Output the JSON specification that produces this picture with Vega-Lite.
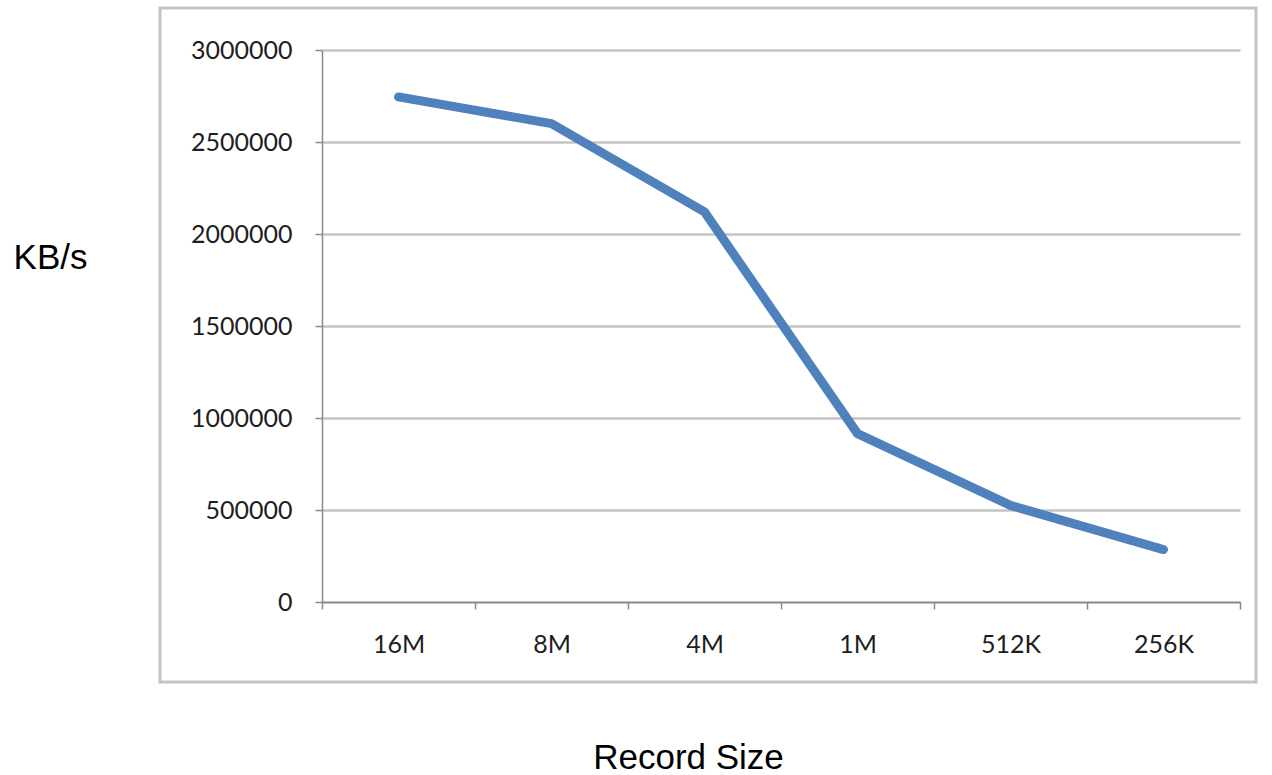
{
  "$schema": "https://vega.github.io/schema/vega-lite/v6.json",
  "autosize": "none",
  "width": 1096,
  "height": 674,
  "padding": {"left": 160, "top": 8, "right": 16, "bottom": 93},
  "background": "white",
  "config": {
    "view": {"stroke": "#c3c3c3", "strokeWidth": 3},
    "axis": {
      "labelFont": "Lato",
      "labelFontSize": 25,
      "labelColor": "#1e1e1e",
      "titleFont": "Liberation Sans",
      "titleFontSize": 35,
      "titleFontWeight": "normal",
      "titleColor": "#000000",
      "domainColor": "#8a8a8a",
      "domainWidth": 1.5,
      "tickColor": "#8a8a8a",
      "tickWidth": 1.5,
      "tickSize": 7,
      "gridColor": "#c4c4c4",
      "gridWidth": 2.5,
      "gridOpacity": 1
    }
  },
  "data": {
    "values": [
      {"size": "16M", "kbps": 2745000},
      {"size": "8M", "kbps": 2600000},
      {"size": "4M", "kbps": 2120000},
      {"size": "1M", "kbps": 915000},
      {"size": "512K", "kbps": 525000},
      {"size": "256K", "kbps": 285000}
    ]
  },
  "mark": {"type": "line", "color": "#4f81bd", "strokeWidth": 9, "strokeCap": "round", "strokeJoin": "round"},
  "encoding": {
    "x": {
      "field": "size",
      "type": "nominal",
      "sort": null,
      "scale": {"type": "band", "range": [162, 1080], "paddingInner": 0, "paddingOuter": 0},
      "axis": {
        "title": "Record Size",
        "offset": -80,
        "labelAngle": 0,
        "labelPadding": 23,
        "tickBand": "extent",
        "grid": false,
        "titleX": 528,
        "titleY": 155,
        "titleAnchor": "middle",
        "titleAlign": "center",
        "titleBaseline": "middle"
      }
    },
    "y": {
      "field": "kbps",
      "type": "quantitative",
      "scale": {"domain": [0, 3000000], "range": [594, 42], "nice": false, "zero": true},
      "axis": {
        "title": "KB/s",
        "offset": -162,
        "values": [0, 500000, 1000000, 1500000, 2000000, 2500000, 3000000],
        "format": "d",
        "labelPadding": 23,
        "grid": true,
        "titleAngle": 0,
        "titleX": -272,
        "titleY": 249,
        "titleAlign": "center",
        "titleBaseline": "middle"
      }
    }
  }
}
